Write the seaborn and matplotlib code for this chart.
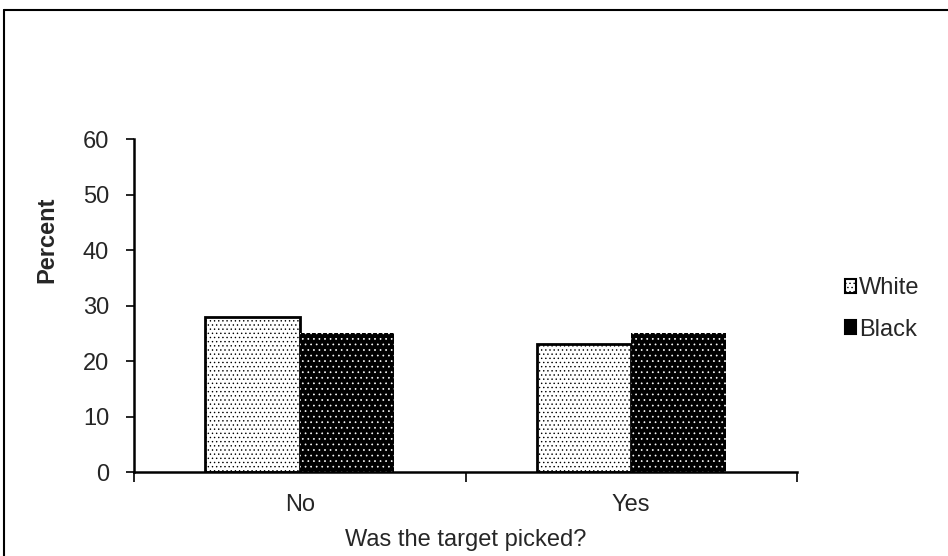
import matplotlib
matplotlib.use("Agg")
import matplotlib.pyplot as plt
from matplotlib.lines import Line2D
from matplotlib.patches import Patch
import seaborn as sns
import pandas as pd

categories = ["No", "Yes"]
white_pct = [28, 23]
black_pct = [25, 25]
groups = ["White", "Black"]
y_ticks = [0, 10, 20, 30, 40, 50, 60]

df = pd.DataFrame({
    "picked": categories * 2,
    "race": [groups[0]] * 2 + [groups[1]] * 2,
    "pct": white_pct + black_pct,
})

sns.set_style("white")
plt.rcParams["font.family"] = ["Liberation Sans", "DejaVu Sans"]
plt.rcParams["hatch.linewidth"] = 0.5

FS = 17

fig = plt.figure(figsize=(9.48, 5.56), dpi=100)
ax = fig.add_axes([0.1414, 0.151, 0.6993, 0.599])

sns.barplot(data=df, x="picked", y="pct", hue="race", order=categories,
            hue_order=groups, palette=["white", "black"], width=0.57,
            dodge=True, legend=False, errorbar=None, ax=ax, saturation=1)

# white bars: black outline with a fine dot screen
for p in ax.containers[0]:
    p.set_facecolor("white")
    p.set_edgecolor("black")
    p.set_linewidth(2)
    p.set_hatch("....")
# black bars: solid black with a sparse white dot screen
for p in ax.containers[1]:
    p.set_facecolor("black")
    p.set_edgecolor("white")
    p.set_linewidth(0)
    p.set_hatch("...")

ax.set_xlim(-0.5, 1.5)
ax.set_ylim(0, 60)
ax.set_yticks(y_ticks)
ax.set_yticklabels([str(v) for v in y_ticks], fontsize=FS)

# category labels sit between boundary ticks
ax.set_xticks([0, 1])
ax.set_xticklabels(categories, fontsize=FS)
ax.tick_params(axis="x", which="major", length=0, pad=16)
ax.set_xticks([-0.5, 0.5, 1.5], minor=True)
ax.tick_params(axis="x", which="minor", length=7, width=1.2, direction="out",
               color="black", bottom=True)
ax.tick_params(axis="y", length=6, width=1.2, direction="out", color="black",
               left=True, pad=12)

for side in ["top", "right"]:
    ax.spines[side].set_visible(False)
for side in ["left", "bottom"]:
    ax.spines[side].set_color("black")
    ax.spines[side].set_linewidth(1.8)

ax.set_xlabel("Was the target picked?", fontsize=FS, labelpad=9)
ax.set_ylabel("Percent", fontsize=FS, fontweight="bold")
ax.yaxis.set_label_coords(-0.1146, 0.697)

handles = [
    Patch(facecolor="white", edgecolor="black", hatch="....", linewidth=1.5),
    Patch(facecolor="black", edgecolor="black", linewidth=1.5),
]
fig.legend(handles, groups, loc="upper left", bbox_to_anchor=(0.891, 0.501),
           frameon=False, fontsize=FS, handlelength=0.5, handleheight=0.5,
           handletextpad=0.1, labelspacing=0.81, borderaxespad=0, borderpad=0)

# outer frame around the chart area
fig.add_artist(Line2D([4 / 948, 4 / 948], [0, 1 - 10 / 556], color="black",
                      linewidth=1.5, transform=fig.transFigure))
fig.add_artist(Line2D([4 / 948, 1], [1 - 10 / 556, 1 - 10 / 556], color="black",
                      linewidth=1.5, transform=fig.transFigure))

fig.savefig("out.png", dpi=100)
